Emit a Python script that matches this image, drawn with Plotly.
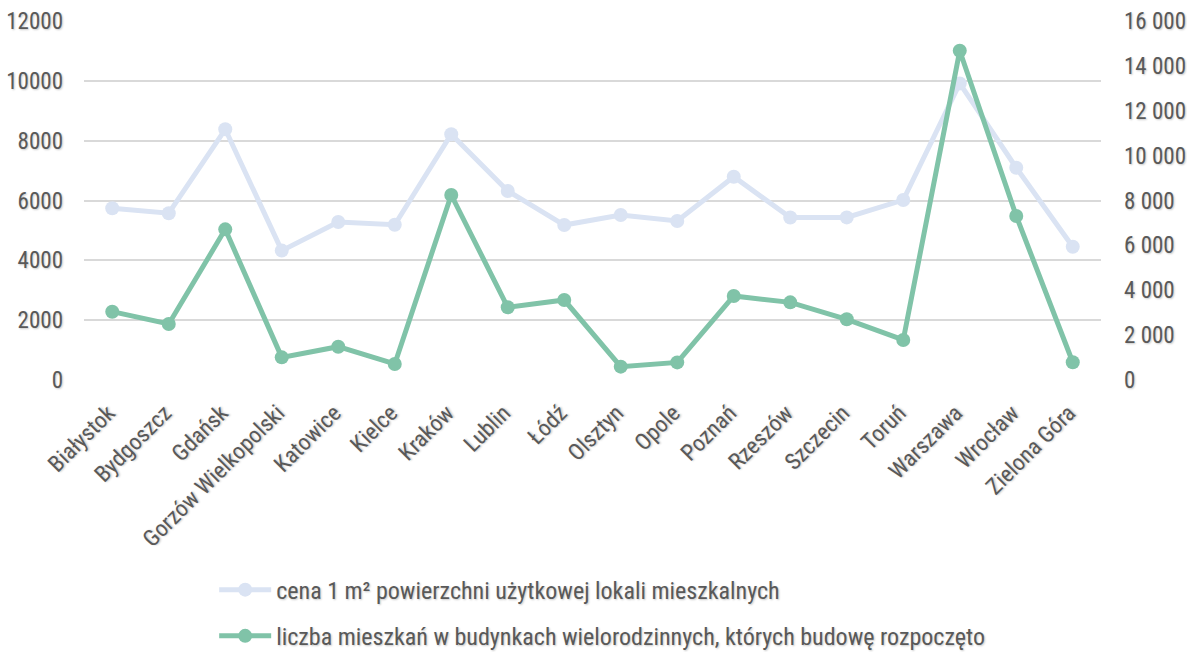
import plotly.graph_objects as go

cities = [
    "Białystok", "Bydgoszcz", "Gdańsk", "Gorzów Wielkopolski", "Katowice",
    "Kielce", "Kraków", "Lublin", "Łódź", "Olsztyn", "Opole", "Poznań",
    "Rzeszów", "Szczecin", "Toruń", "Warszawa", "Wrocław", "Zielona Góra",
]

# price of 1 m² of usable floor area (left axis)
price_per_m2 = [
    5740, 5575, 8380, 4325, 5280, 5190, 8215, 6320, 5180, 5515,
    5315, 6795, 5430, 5435, 6015, 9915, 7095, 4455,
]

# dwellings started in multi-family buildings (right axis)
dwellings_started = [
    3045, 2495, 6715, 1010, 1485, 715, 8245, 3240, 3565, 595,
    785, 3745, 3460, 2705, 1785, 14675, 7310, 790,
]

left_ticks = [0, 2000, 4000, 6000, 8000, 10000, 12000]
right_ticks = [0, 2000, 4000, 6000, 8000, 10000, 12000, 14000, 16000]
right_tick_text = ["0", "2 000", "4 000", "6 000", "8 000", "10 000",
                   "12 000", "14 000", "16 000"]

TEXT = "#595959"
FONT = "'Liberation Sans Narrow', 'Roboto Condensed', 'Arial Narrow', Roboto, sans-serif"
SHADOW = "1px 1px 2px rgba(0,0,0,0.22)"
BLUE = "#DAE3F3"
GREEN = "#80C3A8"

fig = go.Figure()

fig.add_trace(go.Scatter(
    x=cities, y=price_per_m2,
    name="cena 1 m² powierzchni użytkowej lokali mieszkalnych",
    mode="lines+markers",
    line=dict(color=BLUE, width=5),
    marker=dict(color=BLUE, size=14),
    legendgroup="a",
    yaxis="y",
))

fig.add_trace(go.Scatter(
    x=cities, y=dwellings_started,
    name="liczba mieszkań w budynkach wielorodzinnych, których budowę rozpoczęto",
    mode="lines+markers",
    line=dict(color=GREEN, width=5),
    marker=dict(color=GREEN, size=14),
    legendgroup="b",
    yaxis="y2",
))

fig.update_layout(
    width=1187, height=652,
    margin=dict(l=84, r=86, t=21, b=272),
    paper_bgcolor="white", plot_bgcolor="white",
    font=dict(family=FONT, size=22, color=TEXT, shadow=SHADOW),
    xaxis=dict(
        type="category",
        tickangle=-45,
        tickfont=dict(family=FONT, size=23, color=TEXT, shadow=SHADOW),
        showgrid=False, showline=False, zeroline=False,
        ticks="",
        ticklabelstandoff=14,
        ticklabelshift=-4,
        range=[-0.5, len(cities) - 0.5],
        automargin=False,
    ),
    yaxis=dict(
        range=[0, 12000],
        tickvals=left_ticks,
        ticktext=[str(v) for v in left_ticks],
        tickfont=dict(family=FONT, size=23, color=TEXT, shadow=SHADOW),
        gridcolor="#D9D9D9", gridwidth=1.5,
        zeroline=False, showline=False,
        ticks="", ticklabelstandoff=20,
        automargin=False,
    ),
    yaxis2=dict(
        range=[0, 16000],
        overlaying="y", side="right",
        tickvals=right_ticks,
        ticktext=right_tick_text,
        tickfont=dict(family=FONT, size=23, color=TEXT, shadow=SHADOW),
        showgrid=False, zeroline=False, showline=False,
        ticks="", ticklabelstandoff=22,
        automargin=False,
    ),
    legend=dict(
        orientation="v",
        xref="paper", x=0.128, xanchor="left",
        yref="container", y=0.1295, yanchor="top",
        traceorder="grouped",
        tracegroupgap=12,
        font=dict(family=FONT, size=24, color=TEXT, shadow=SHADOW),
        itemwidth=52,
    ),
    showlegend=True,
)

fig.write_html("out.html")
